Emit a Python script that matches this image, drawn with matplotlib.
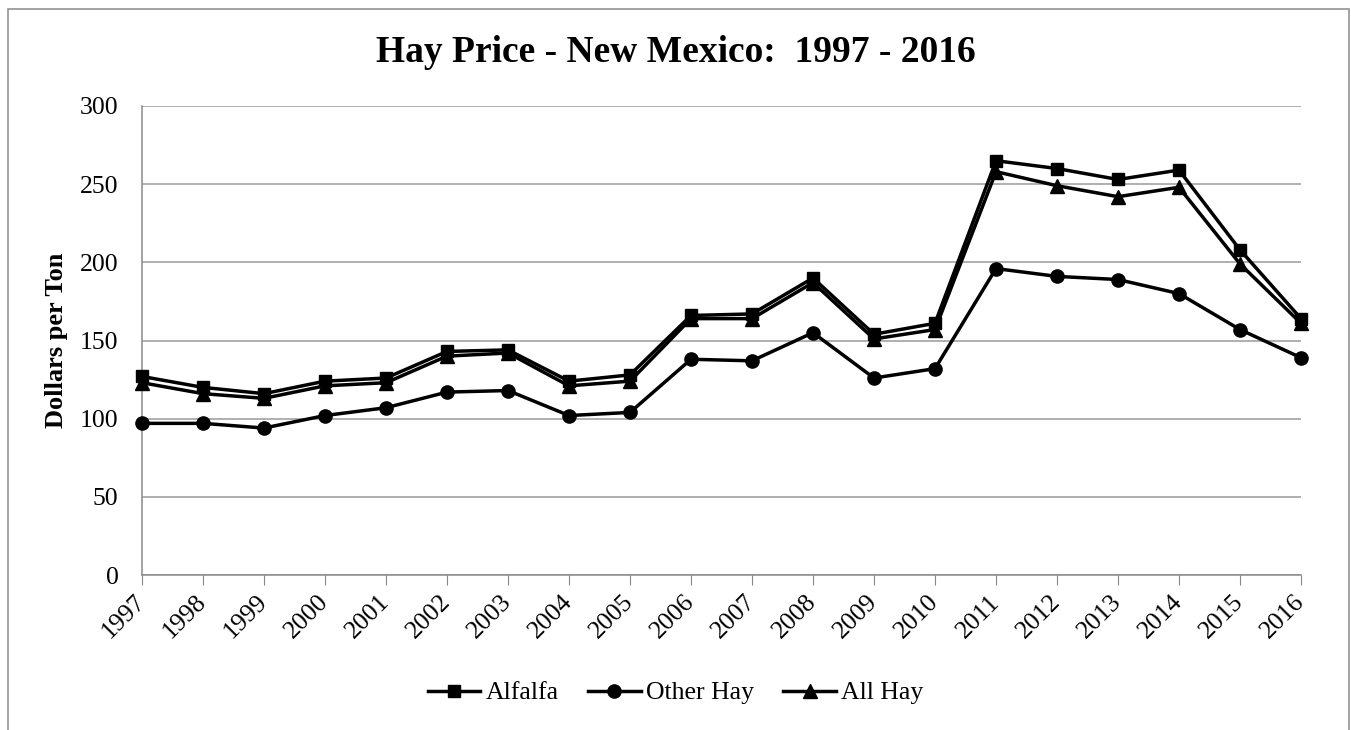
import matplotlib
matplotlib.use("Agg")
import matplotlib.pyplot as plt
from matplotlib.patches import Rectangle

years = [str(y) for y in range(1997, 2017)]
alfalfa = [127, 120, 116, 124, 126, 143, 144, 124, 128, 166, 167, 190, 154, 161, 265, 260, 253, 259, 208, 164]
other_hay = [97, 97, 94, 102, 107, 117, 118, 102, 104, 138, 137, 155, 126, 132, 196, 191, 189, 180, 157, 139]
all_hay = [123, 116, 113, 121, 123, 140, 142, 121, 124, 164, 164, 187, 151, 157, 258, 249, 242, 248, 199, 161]

plt.rcParams['font.family'] = ['Liberation Serif', 'DejaVu Serif']

fig = plt.figure(figsize=(13.51, 7.30), dpi=100)
ax = fig.add_axes([142/1351, 1-575/730, (1301-142)/1351, (575-106)/730])

x = list(range(len(years)))
lw = 2.5
ax.plot(x, alfalfa, color='black', lw=lw, marker='s', markersize=9, label='Alfalfa', zorder=3, clip_on=False)
ax.plot(x, other_hay, color='black', lw=lw, marker='o', markersize=9.5, label='Other Hay', zorder=3, clip_on=False)
ax.plot(x, all_hay, color='black', lw=lw, marker='^', markersize=10, label='All Hay', zorder=3, clip_on=False)

ax.set_xlim(0, len(years)-1)
ax.set_ylim(0, 300)
ax.set_yticks(range(0, 301, 50))
ax.set_xticks(x)
ax.set_xticklabels(years, rotation=45, ha='right', va='center', rotation_mode='anchor')
ax.tick_params(axis='x', length=7, color='#888888', labelsize=18.5, pad=10)
ax.tick_params(axis='y', length=0, labelsize=18.5, pad=17)
ax.grid(axis='y', color='#9a9a9a', lw=1.1)
ax.set_axisbelow(True)
for s in ['top', 'right']:
    ax.spines[s].set_visible(False)
for s in ['left', 'bottom']:
    ax.spines[s].set_color('#8a8a8a')
    ax.spines[s].set_linewidth(1.1)

fig.text(57/1351, 1-340/730, 'Dollars per Ton', ha='center', va='center', rotation=90,
         fontsize=19, fontweight='bold')
fig.text(0.5, 1-52/730, 'Hay Price - New Mexico:  1997 - 2016', ha='center', va='center',
         fontsize=27, fontweight='bold')

leg = fig.legend(loc='center', bbox_to_anchor=(0.5, 1-693/730), ncol=3, frameon=False,
                 fontsize=18.5, handlelength=2.05, columnspacing=1.15, handletextpad=0.2)

fig.patches.append(Rectangle((8/1351, -0.01), (1349-8)/1351, 1-9/730+0.01, transform=fig.transFigure,
                             fill=False, edgecolor='#8a8a8a', lw=1.1))

fig.savefig('out.png', dpi=100)
